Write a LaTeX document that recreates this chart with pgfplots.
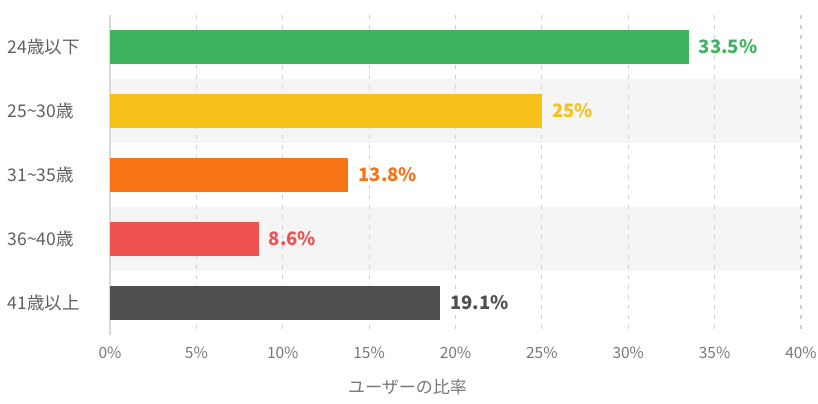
\documentclass[border=0pt]{standalone}
\usepackage{fontspec}
\setmainfont{Noto Sans CJK JP}
\usepackage{pgfplots}
\pgfplotsset{compat=1.18}
\definecolor{cgreen}{RGB}{63,179,94}
\definecolor{cyellow}{RGB}{246,193,26}
\definecolor{corange}{RGB}{247,115,22}
\definecolor{cred}{RGB}{240,82,82}
\definecolor{cdark}{RGB}{80,80,82}
\definecolor{band}{RGB}{245,245,245}
\definecolor{gridc}{RGB}{208,208,208}
\definecolor{tickc}{RGB}{120,120,120}
\definecolor{ylabc}{RGB}{95,95,95}
\pgfplotsset{lab/.style={nodes near coords={\pgfmathprintnumber{\pgfplotspointmeta}\%},
  point meta=x,
  every node near coord/.append style={anchor=west, inner sep=0pt, xshift=10bp, font=\bfseries\fontsize{18.5bp}{21bp}\selectfont, text=#1}}}
\begin{document}
\begin{tikzpicture}
\begin{axis}[
  at={(110bp,69bp)}, anchor=south west,
  set layers,
  scale only axis, width=691bp, height=320bp,
  xmin=0, xmax=40, ymin=-0.5, ymax=4.5,
  y dir=reverse,
  axis line style={draw=none},
  major tick length=0pt,
  xtick={5,10,15,20,25,30,35,40},
  extra x ticks={0},
  extra x tick style={grid style={solid, gridc!80!white, line width=1.6bp}},
  xmajorgrids,
  grid style={gridc, line width=1.2bp, dash pattern=on 4bp off 6bp},
  xticklabel={\pgfmathprintnumber{\tick}\%},
  /pgf/number format/assume math mode=true,
  xticklabel style={anchor=center, yshift=-18bp, font=\fontsize{15.5bp}{18bp}\selectfont, text=tickc},
  ytick={0,1,2,3,4},
  yticklabels={24歳以下,25\textasciitilde30歳,31\textasciitilde35歳,36\textasciitilde40歳,41歳以上},
  yticklabel style={anchor=east, inner sep=0pt, text width=102bp, align=left, font=\fontsize{17.5bp}{20bp}\selectfont, text=ylabc},
  xlabel={ユーザーの比率},
  xlabel style={at={(axis description cs:0.5,0)}, anchor=center, xshift=-48bp, yshift=-52bp, font=\fontsize{17bp}{20bp}\selectfont, text=tickc},
  xbar, bar shift=0pt,
]
\addplot[xbar, bar width=64bp, fill=band, draw=none, on layer=axis background] coordinates {(40,1) (40,3)};
\addplot[bar width=34bp, fill=cgreen, draw=none, lab=cgreen] coordinates {(33.5,0)};
\addplot[bar width=34bp, fill=cyellow, draw=none, lab=cyellow] coordinates {(25,1)};
\addplot[bar width=34bp, fill=corange, draw=none, lab=corange] coordinates {(13.8,2)};
\addplot[bar width=34bp, fill=cred, draw=none, lab=cred] coordinates {(8.6,3)};
\addplot[bar width=34bp, fill=cdark, draw=none, lab=cdark] coordinates {(19.1,4)};
\end{axis}
\pgfresetboundingbox
\useasboundingbox (0,0) rectangle (818bp,404bp);
\end{tikzpicture}
\end{document}
